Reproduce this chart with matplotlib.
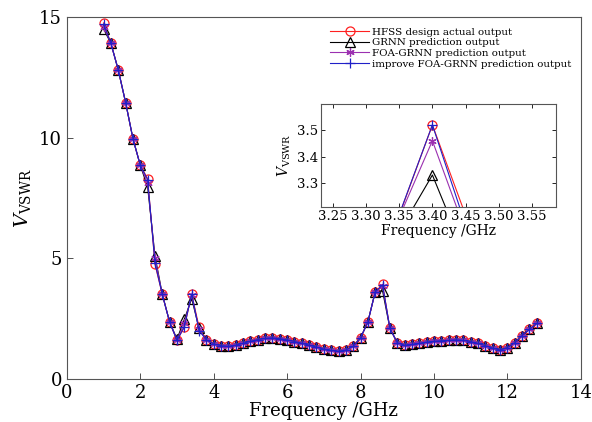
import matplotlib
matplotlib.use("Agg")
import matplotlib.pyplot as plt

plt.rcParams['font.family'] = ['DejaVu Serif']
plt.rcParams['mathtext.fontset'] = 'dejavuserif'

freq = [1.0, 1.2, 1.4, 1.6, 1.8, 2.0, 2.2, 2.4, 2.6, 2.8,
        3.0, 3.2, 3.4, 3.6, 3.8, 4.0, 4.2, 4.4, 4.6, 4.8,
        5.0, 5.2, 5.4, 5.6, 5.8, 6.0, 6.2, 6.4, 6.6, 6.8,
        7.0, 7.2, 7.4, 7.6, 7.8, 8.0, 8.2, 8.4, 8.6, 8.8,
        9.0, 9.2, 9.4, 9.6, 9.8, 10.0, 10.2, 10.4, 10.6, 10.8,
        11.0, 11.2, 11.4, 11.6, 11.8, 12.0, 12.2, 12.4, 12.6, 12.8]

hfss = [14.75, 13.9, 12.8, 11.45, 9.95, 8.85, 8.3, 4.75, 3.5, 2.35,
        1.6, 2.15, 3.52, 2.15, 1.62, 1.45, 1.38, 1.35, 1.4, 1.48,
        1.56, 1.63, 1.68, 1.7, 1.67, 1.62, 1.55, 1.48, 1.4, 1.32,
        1.24, 1.18, 1.15, 1.2, 1.35, 1.7, 2.36, 3.6, 3.92, 2.1,
        1.5, 1.4, 1.43, 1.48, 1.53, 1.56, 1.58, 1.6, 1.62, 1.6,
        1.55, 1.47, 1.38, 1.28, 1.2, 1.3, 1.5, 1.8, 2.05, 2.3]

grnn = [14.5, 13.9, 12.8, 11.45, 9.95, 8.85, 7.95, 5.1, 3.5, 2.35,
        1.65, 2.47, 3.33, 2.1, 1.62, 1.45, 1.38, 1.35, 1.4, 1.48,
        1.56, 1.63, 1.68, 1.7, 1.67, 1.62, 1.55, 1.48, 1.4, 1.32,
        1.24, 1.18, 1.15, 1.2, 1.35, 1.7, 2.36, 3.62, 3.65, 2.1,
        1.5, 1.4, 1.43, 1.48, 1.53, 1.56, 1.58, 1.6, 1.62, 1.6,
        1.55, 1.47, 1.38, 1.28, 1.2, 1.3, 1.5, 1.8, 2.05, 2.3]

foa = [14.6, 13.9, 12.8, 11.45, 9.95, 8.85, 8.1, 5.0, 3.5, 2.35,
       1.62, 2.3, 3.46, 2.08, 1.62, 1.45, 1.38, 1.35, 1.4, 1.48,
       1.56, 1.63, 1.68, 1.7, 1.67, 1.62, 1.55, 1.48, 1.4, 1.32,
       1.24, 1.18, 1.15, 1.2, 1.35, 1.7, 2.36, 3.6, 3.85, 2.1,
       1.5, 1.4, 1.43, 1.48, 1.53, 1.56, 1.58, 1.6, 1.62, 1.6,
       1.55, 1.47, 1.38, 1.28, 1.2, 1.3, 1.5, 1.8, 2.05, 2.3]

improved = [14.7, 13.9, 12.8, 11.45, 9.95, 8.85, 8.25, 4.8, 3.5, 2.35,
            1.6, 2.16, 3.52, 2.0, 1.62, 1.45, 1.38, 1.35, 1.4, 1.48,
            1.56, 1.63, 1.68, 1.7, 1.67, 1.62, 1.55, 1.48, 1.4, 1.32,
            1.24, 1.18, 1.15, 1.2, 1.35, 1.7, 2.36, 3.6, 3.9, 2.1,
            1.5, 1.4, 1.43, 1.48, 1.53, 1.56, 1.58, 1.6, 1.62, 1.6,
            1.55, 1.47, 1.38, 1.28, 1.2, 1.3, 1.5, 1.8, 2.05, 2.3]

labels = ['HFSS design actual output', 'GRNN prediction output',
          'FOA-GRNN prediction output', 'improve FOA-GRNN prediction output']
x_ticks = [0, 2, 4, 6, 8, 10, 12, 14]
y_ticks = [0, 5, 10, 15]
inset_xticks = [3.25, 3.30, 3.35, 3.40, 3.45, 3.50, 3.55]
inset_yticks = [3.3, 3.4, 3.5]

styles = [
    dict(color='#ff2020', marker='o', markersize=6.5, mfc='none', mew=0.9),
    dict(color='#000000', marker='^', markersize=6.5, mfc='none', mew=0.9),
    dict(color='#9b30b0', marker=(6, 2, 0), markersize=6, mfc='none', mew=0.9),
    dict(color='#2020c8', marker='+', markersize=7.5, mfc='none', mew=0.9),
]
series = [hfss, grnn, foa, improved]

fig = plt.figure(figsize=(5.92, 4.22), dpi=100)
ax = fig.add_axes([0.113, 0.102, 0.868, 0.858])
handles = []
for s, st, lab in zip(series, styles, labels):
    h, = ax.plot(freq, s, lw=0.8, label=lab, **st)
    handles.append(h)

ax.set_xlim(0, 14)
ax.set_ylim(0, 15)
ax.set_xticks(x_ticks)
ax.set_yticks(y_ticks)
ax.tick_params(direction='in', labelsize=13, length=4, width=0.6, colors='#333333')
ax.tick_params(labelcolor='black')
for sp in ax.spines.values():
    sp.set_color('#555555')
    sp.set_linewidth(0.8)
ax.set_xlabel('Frequency /GHz', fontsize=13, labelpad=0)
ax.set_ylabel(r'$V_{\mathrm{VSWR}}$', fontsize=14, labelpad=4)

leg = fig.legend(handles=handles, labels=labels, loc='upper left',
                 bbox_to_anchor=(0.558, 0.935), frameon=False, fontsize=7.4,
                 handlelength=3.8, handletextpad=0.3, labelspacing=0.14,
                 borderpad=0, borderaxespad=0)

ins = fig.add_axes([0.542, 0.509, 0.397, 0.245])
for s, st in zip(series, styles):
    ins.plot(freq, s, lw=0.8, **st)
ins.set_xlim(3.232, 3.586)
ins.set_ylim(3.208, 3.6)
ins.set_xticks(inset_xticks)
ins.set_xticklabels(['%.2f' % v for v in inset_xticks])
ins.set_yticks(inset_yticks)
ins.set_yticklabels(['%.1f' % v for v in inset_yticks])
ins.tick_params(direction='in', labelsize=9.5, length=3, width=0.6,
                top=True, right=True, pad=2)
for sp in ins.spines.values():
    sp.set_color('#555555')
    sp.set_linewidth(0.8)
ins.set_xlabel('Frequency /GHz', fontsize=10, labelpad=1)
ins.set_ylabel(r'$V_{\mathrm{VSWR}}$', fontsize=10, labelpad=3)

fig.savefig('out.png', dpi=100)
